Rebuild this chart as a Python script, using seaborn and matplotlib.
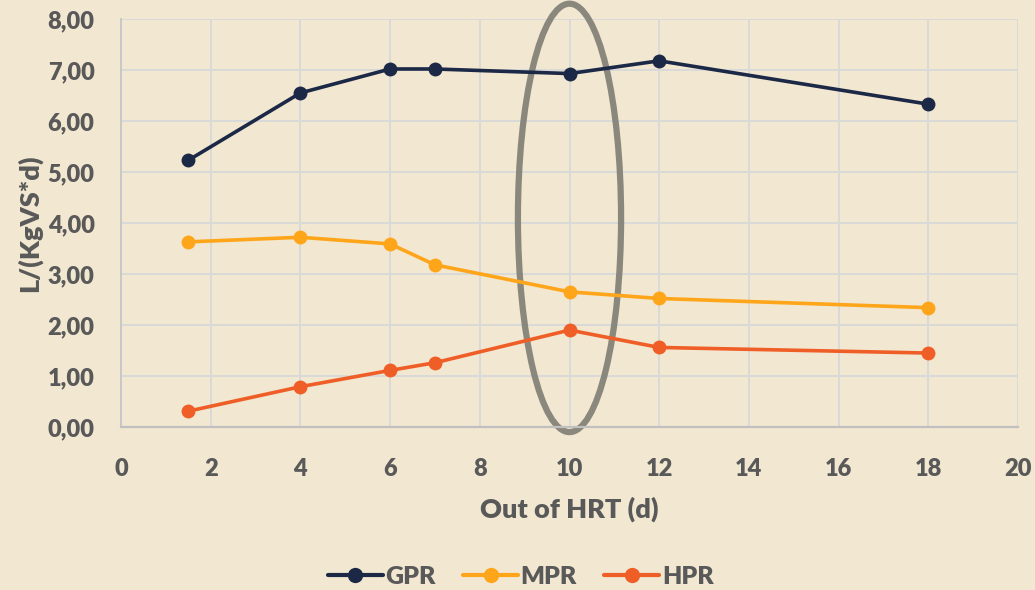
import matplotlib
matplotlib.use("Agg")
import matplotlib.pyplot as plt
from matplotlib.patches import Ellipse
import seaborn as sns
import pandas as pd

# Hydraulic retention time (days) and production rates, L/(KgVS*d)
hrt = [1.5, 4, 6, 7, 10, 12, 18]
gpr = [5.23, 6.55, 7.02, 7.02, 6.93, 7.18, 6.33]
mpr = [3.63, 3.72, 3.59, 3.18, 2.65, 2.52, 2.34]
hpr = [0.31, 0.79, 1.11, 1.26, 1.90, 1.56, 1.45]

series_names = ["GPR", "MPR", "HPR"]
series_colors = ["#1b2846", "#ffa51a", "#ef5e27"]

df = pd.concat([
    pd.DataFrame({"HRT": hrt, "value": vals, "series": name})
    for name, vals in zip(series_names, [gpr, mpr, hpr])
])

bg = "#f2e7d0"
text_color = "#595959"
weight = "heavy"

sns.set_theme(style="white")
plt.rcParams["font.family"] = ["Lato", "DejaVu Sans"]
plt.rcParams["font.weight"] = weight

fig = plt.figure(figsize=(10.35, 5.9), dpi=100, facecolor=bg)
ax = fig.add_axes([121 / 1035, 1 - 427 / 590, (1018 - 121) / 1035, (427 - 19) / 590])
ax.set_facecolor(bg)

# Highlight around HRT = 10 d
ell = Ellipse((10, 4.1), width=2.3, height=8.4, fill=False,
              edgecolor="#858279", linewidth=4.5, alpha=0.95,
              zorder=2, clip_on=False)
ax.add_patch(ell)

sns.lineplot(data=df, x="HRT", y="value", hue="series",
             palette=dict(zip(series_names, series_colors)),
             marker="o", markersize=10, markeredgewidth=0,
             linewidth=2.6, ax=ax, legend=False, zorder=3)

ax.set_xlim(0, 20)
ax.set_ylim(0, 8)
ax.set_xticks(range(0, 21, 2))
ax.set_yticks(range(0, 9))
ax.set_yticklabels([f"{v},00" for v in range(0, 9)])

ax.grid(True, color="#d9d9d9", linewidth=1.4, zorder=0)
ax.set_axisbelow(True)
for side in ["top", "right"]:
    ax.spines[side].set_visible(False)
ax.spines["left"].set_color("#c8c8c8")
ax.spines["bottom"].set_color("#c0c0c0")
ax.spines["left"].set_linewidth(1.4)
ax.spines["bottom"].set_linewidth(1.6)

ax.tick_params(axis="x", length=0, labelsize=17, labelcolor=text_color, pad=22)
ax.tick_params(axis="y", length=0, labelsize=17, labelcolor=text_color, pad=19)
for lab in ax.get_xticklabels() + ax.get_yticklabels():
    lab.set_fontweight(weight)

ax.set_xlabel("Out of HRT (d)", fontsize=19.5, fontweight=weight, color=text_color, labelpad=12)
ax.set_ylabel("L/(KgVS*d)", fontsize=19.5, fontweight=weight, color=text_color, labelpad=4)

handles = [plt.Line2D([0], [0], color=c, linewidth=3, marker="o", markersize=11,
                      markeredgewidth=0) for c in series_colors]
fig.legend(handles, series_names, loc="center", bbox_to_anchor=(0.503, 1 - 577 / 590),
           ncol=3, frameon=False, prop={"size": 18, "weight": weight},
           labelcolor=text_color, handlelength=2.2, handletextpad=0.1,
           columnspacing=1.1)

fig.savefig("out.png", dpi=100, facecolor=bg)
